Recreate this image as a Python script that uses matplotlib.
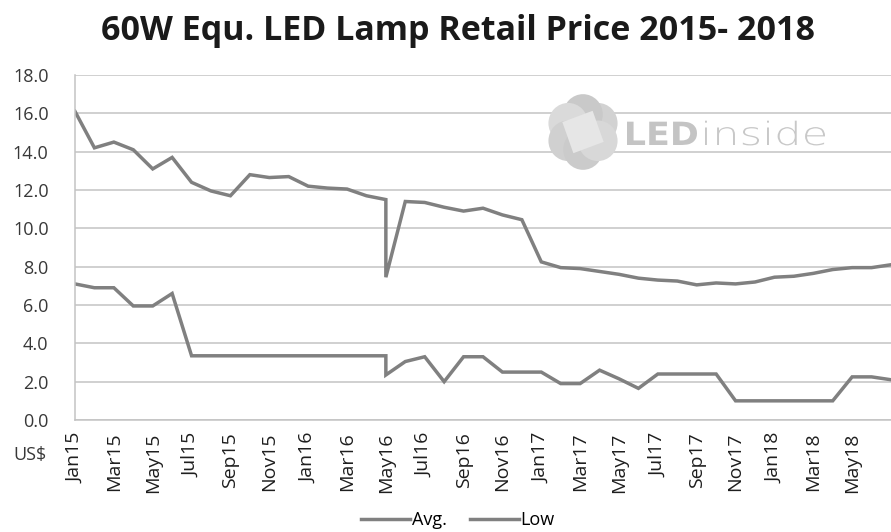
import numpy as np
import matplotlib
matplotlib.use("Agg")
import matplotlib.pyplot as plt
from matplotlib.patches import Circle, Polygon, PathPatch
from matplotlib.textpath import TextPath
from matplotlib.font_manager import FontProperties
from matplotlib.transforms import Affine2D

# month index from Jan15 (0) ... Jul18 (42); May16 (16) appears twice in the source data
month_idx = [0, 1, 2, 3, 4, 5, 6, 7, 8, 9, 10, 11, 12, 13, 14, 15, 16, 16,
             17, 18, 19, 20, 21, 22, 23, 24, 25, 26, 27, 28, 29, 30, 31, 32,
             33, 34, 35, 36, 37, 38, 39, 40, 41, 42]

avg_price = [16.1, 14.2, 14.5, 14.1, 13.1, 13.7, 12.4, 11.95, 11.7, 12.8, 12.65,
             12.7, 12.2, 12.1, 12.05, 11.7, 11.5, 7.45, 11.4, 11.35, 11.1, 10.9,
             11.05, 10.7, 10.45, 8.25, 7.95, 7.9, 7.75, 7.6, 7.4, 7.3, 7.25, 7.05,
             7.15, 7.1, 7.2, 7.45, 7.5, 7.65, 7.85, 7.95, 7.95, 8.1]

low_price = [7.1, 6.9, 6.9, 5.95, 5.95, 6.6, 3.35, 3.35, 3.35, 3.35, 3.35, 3.35,
             3.35, 3.35, 3.35, 3.35, 3.35, 2.35, 3.05, 3.3, 2.0, 3.3, 3.3, 2.5,
             2.5, 2.5, 1.9, 1.9, 2.6, 2.15, 1.65, 2.4, 2.4, 2.4, 2.4, 1.0, 1.0,
             1.0, 1.0, 1.0, 1.0, 2.25, 2.25, 2.1]

tick_labels = ["Jan15", "Mar15", "May15", "Jul15", "Sep15", "Nov15", "Jan16",
               "Mar16", "May16", "Jul16", "Sep16", "Nov16", "Jan17", "Mar17",
               "May17", "Jul17", "Sep17", "Nov17", "Jan18", "Mar18", "May18"]

plt.rcParams['font.family'] = ["Open Sans", "DejaVu Sans"]

line_col = "#808080"
grid_col = "#c3c3c3"

fig = plt.figure(figsize=(8.91, 5.32), dpi=100)
ax = fig.add_axes([75/891, 1 - 420/532, 816/891, 345/532])

ax.plot(month_idx, avg_price, color=line_col, lw=2.5, label="Avg.", solid_joinstyle="miter")
ax.plot(month_idx, low_price, color=line_col, lw=2.5, label="Low", solid_joinstyle="miter")

ax.set_xlim(0, 42)
ax.set_ylim(0, 18)
ax.set_yticks(np.arange(0, 18.1, 2))
ax.set_yticklabels(["%.1f" % v for v in np.arange(0, 18.1, 2)])
ax.set_xticks(np.arange(0, 41, 2))
ax.set_xticklabels(tick_labels, rotation=90)
ax.tick_params(axis="y", length=0, pad=19, labelsize=13, labelcolor="#383838")
ax.tick_params(axis="x", length=0, pad=9, labelsize=14, labelcolor="#1e1e1e")
ax.grid(axis="y", color=grid_col, lw=1.1)
ax.set_axisbelow(True)
for s in ["top", "right"]:
    ax.spines[s].set_visible(False)
for s in ["left", "bottom"]:
    ax.spines[s].set_color(grid_col)
    ax.spines[s].set_linewidth(1.1)

fig.text(458/891, 1 - 31/532, "60W Equ. LED Lamp Retail Price 2015- 2018",
         ha="center", va="center", fontsize=24.5, fontweight="bold",
         color="#1a1a1a")
fig.text(13/891, 1 - 455/532, "US$", ha="left", va="center", fontsize=13,
         color="#383838")

ax.legend(loc="center", bbox_to_anchor=(458/891, 1 - 520/532),
          bbox_transform=fig.transFigure, ncol=2, frameon=False,
          handlelength=2.7, handletextpad=0.1, columnspacing=1.3,
          prop={"size": 13})

# LEDinside watermark
lax = fig.add_axes([545/891, 1 - 171/532, 76/891, 78/532])
lax.set_xlim(-1, 1)
lax.set_ylim(-1, 1)
lax.axis("off")
petal_cols = ["#d2d2d2", "#c9c9c9", "#dadada", "#d0d0d0", "#cbcbcb", "#d8d8d8"]
for k, pc in enumerate(petal_cols):
    a = np.pi / 6 + k * np.pi / 3
    lax.add_patch(Circle((0.45 * np.cos(a), 0.45 * np.sin(a)), 0.52, color=pc, lw=0))
sq = [(np.cos(t) * 0.6, np.sin(t) * 0.6) for t in np.pi / 4 + np.pi / 9 + np.arange(4) * np.pi / 2]
lax.add_patch(Polygon(sq, closed=True, color="#e6e6e6", lw=0))


def stretched_text(s, x0, x1, base_y, weight, col):
    # draw text as a path, squeezed/stretched to span x0..x1 pixels
    tp = TextPath((0, 0), s, size=32, prop=FontProperties(family="DejaVu Sans", weight=weight))
    ext = tp.get_extents()
    sx = (x1 - x0) / ext.width
    tr = Affine2D().translate(-ext.x0, 0).scale(sx, 1).translate(x0, 532 - base_y)
    fig.add_artist(PathPatch(tp, transform=tr, color=col, lw=0))


stretched_text("LED", 627, 697, 145, "bold", "#c4c4c4")
stretched_text("inside", 705, 825, 145, "light", "#c8c8c8")

fig.savefig("out.png", dpi=100)
